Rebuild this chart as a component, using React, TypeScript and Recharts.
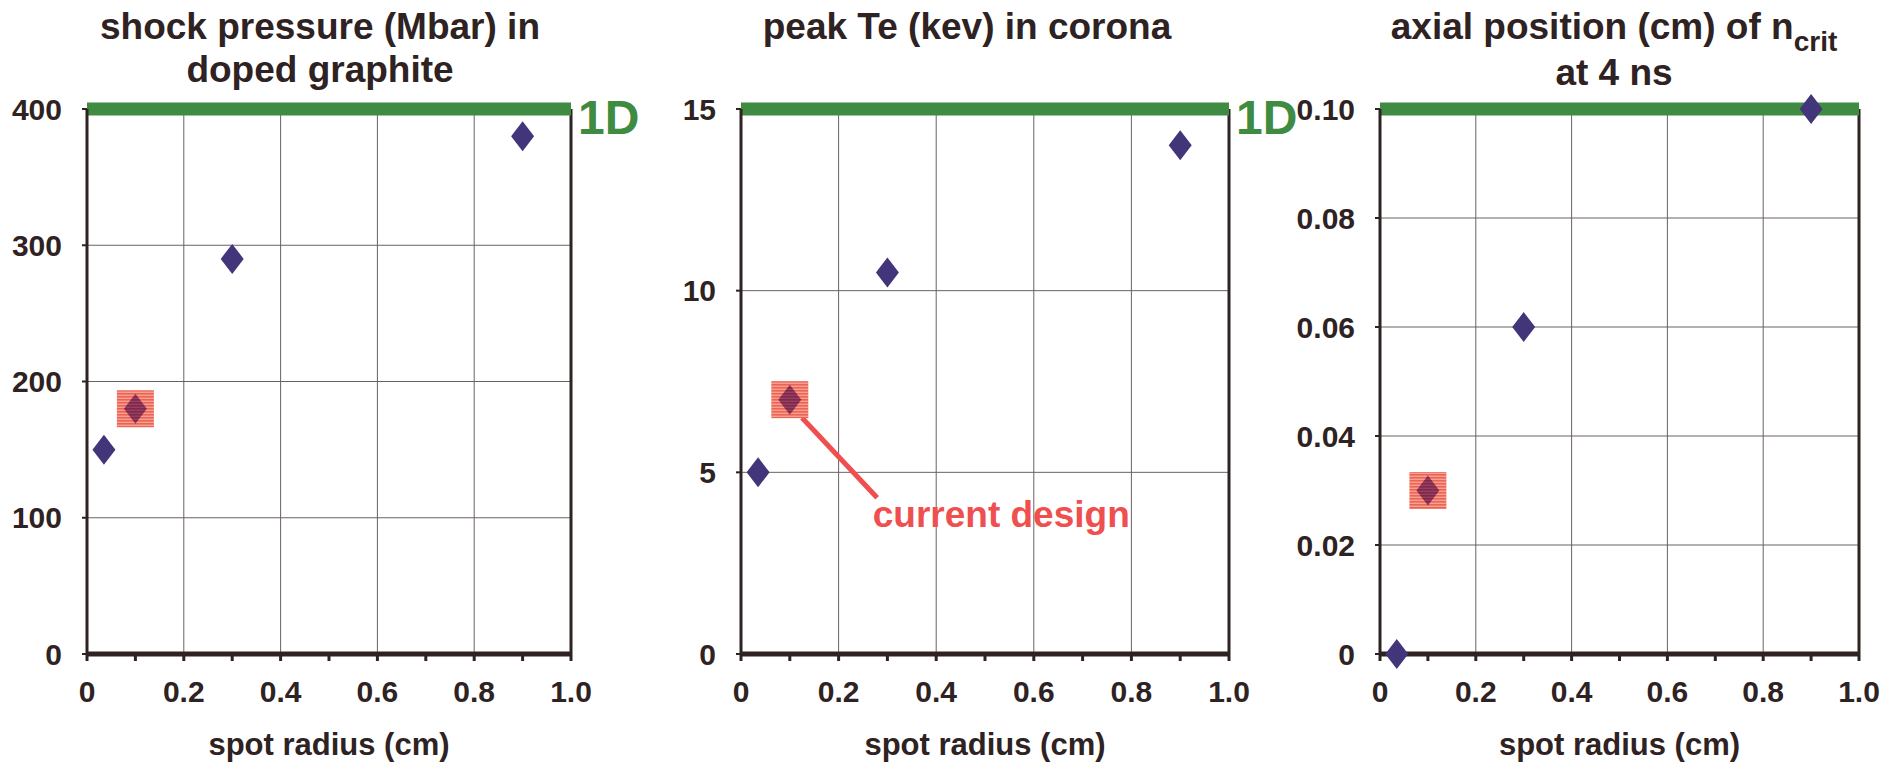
import { ScatterChart, Scatter, XAxis, YAxis, CartesianGrid, ReferenceLine, ReferenceDot, Label } from "recharts"

// spot radius (cm) of the four runs, shared by all three panels
const spotRadius = [0.035, 0.1, 0.3, 0.9]
const shockPressure = [150, 180, 290, 380] // Mbar
const peakTe = [5, 7, 10.5, 14] // keV
const critPosition = [0, 0.03, 0.06, 0.1] // cm
const currentDesignIndex = 1

// 1D reference levels
const pressure1D = 400
const te1D = 15
const position1D = 0.1

const radiusTicks = [0, 0.1, 0.2, 0.3, 0.4, 0.5, 0.6, 0.7, 0.8, 0.9, 1.0]
const radiusGrid = [0.2, 0.4, 0.6, 0.8]
const pressureTicks = [0, 100, 200, 300, 400]
const teTicks = [0, 5, 10, 15]
const positionTicks = [0, 0.02, 0.04, 0.06, 0.08, 0.1]

// callout on the Te panel, in data units
const calloutFrom = { x: 0.125, y: 6.5 }
const calloutTo = { x: 0.279, y: 4.3 }
const calloutText = { x: 0.27, y: 3.5, label: "current design" }

const FONT = '"Liberation Sans", Arial, Helvetica, sans-serif'
const INK = "#2f2222"
const GREEN = "#3f8b41"
const DIAMOND = "#43357a"
const RED = "#ef4f4f"

const Diamond = (props: any) => {
  const { cx, cy } = props
  if (cx == null || cy == null) return null
  return <polygon points={`${cx},${cy - 15} ${cx + 11.5},${cy} ${cx},${cy + 15} ${cx - 11.5},${cy}`} fill={DIAMOND} />
}

// striped red square with the darkened diamond inside it
const makeHighlight = (id: string) => (props: any) => {
  const { cx, cy } = props
  if (cx == null || cy == null) return null
  const s = 37
  return (
    <g>
      <defs>
        <pattern id={`box-${id}`} width="4" height="3" patternUnits="userSpaceOnUse">
          <rect width="4" height="3" fill="#f5a092" />
          <rect width="4" height="1.6" fill="#ee6454" />
        </pattern>
        <pattern id={`dia-${id}`} width="4" height="3" patternUnits="userSpaceOnUse">
          <rect width="4" height="3" fill="#9c3c5e" />
          <rect width="4" height="1.6" fill="#7a2a4c" />
        </pattern>
      </defs>
      <rect x={cx - s / 2} y={cy - s / 2} width={s} height={s} fill={`url(#box-${id})`} />
      <polygon
        points={`${cx},${cy - 15} ${cx + 11.5},${cy} ${cx},${cy + 15} ${cx - 11.5},${cy}`}
        fill={`url(#dia-${id})`}
      />
    </g>
  )
}

const radiusLabel = (v: number) => {
  const k = Math.round(v * 10)
  if (k % 2 === 1) return ""
  if (k === 0) return "0"
  return v.toFixed(1)
}

interface PanelProps {
  id: string
  left: number
  width: number
  plotLeft: number
  plotRight: number
  values: number[]
  yTicks: number[]
  yFormat?: (v: number) => string
  level1D: number
  show1D: boolean
  callout?: boolean
}

function Panel({ id, left, width, plotLeft, plotRight, values, yTicks, yFormat, level1D, show1D, callout }: PanelProps) {
  const points = spotRadius.map((x, i) => ({ x, y: values[i] }))
  const current = [points[currentDesignIndex]]
  const tickStyle = { fill: INK, fontSize: 30, fontWeight: 700, fontFamily: FONT }

  return (
    <div style={{ position: "absolute", left, top: 0 }}>
      <ScatterChart
        width={width}
        height={762}
        margin={{ top: 109, right: left + width - plotRight, bottom: 48, left: 0 }}
      >
        <CartesianGrid vertical={false} stroke="#6a6262" strokeWidth={1} />
        {radiusGrid.map((x) => (
          <ReferenceLine key={x} x={x} stroke="#6a6262" strokeWidth={1} />
        ))}
        <ReferenceLine x={1} stroke={INK} strokeWidth={3} />
        <ReferenceLine
          y={level1D}
          stroke={GREEN}
          strokeWidth={13}
          label={
            show1D
              ? { value: "1D", position: "right", offset: 7, dy: 8, fill: GREEN, fontSize: 48, fontWeight: 700, fontFamily: FONT }
              : undefined
          }
        />
        <XAxis
          type="number"
          dataKey="x"
          domain={[0, 1]}
          ticks={radiusTicks}
          interval={0}
          tickFormatter={radiusLabel}
          tick={tickStyle}
          tickSize={7}
          tickMargin={20}
          height={60}
          axisLine={{ stroke: INK, strokeWidth: 5 }}
          tickLine={{ stroke: INK, strokeWidth: 3 }}
        >
          <Label
            value="spot radius (cm)"
            position="bottom"
            offset={19}
            fill={INK}
            fontSize={31}
            fontWeight={700}
            fontFamily={FONT}
          />
        </XAxis>
        <YAxis
          type="number"
          dataKey="y"
          domain={[yTicks[0], yTicks[yTicks.length - 1]]}
          ticks={yTicks}
          interval={0}
          tickFormatter={yFormat}
          tick={tickStyle}
          width={plotLeft - left}
          tickSize={5}
          tickMargin={20}
          axisLine={{ stroke: INK, strokeWidth: 3 }}
          tickLine={{ stroke: INK, strokeWidth: 2 }}
        />
        <Scatter data={points} shape={Diamond} isAnimationActive={false} />
        <Scatter data={current} shape={makeHighlight(id)} isAnimationActive={false} />
        {callout && (
          <ReferenceLine
            segment={[calloutFrom, calloutTo]}
            stroke={RED}
            strokeWidth={5}
          />
        )}
        {callout && (
          <ReferenceDot
            x={calloutText.x}
            y={calloutText.y}
            r={0}
            shape={(p: any) => (
              <text x={p.cx} y={p.cy} fill={RED} fontSize={37} fontWeight={700} fontFamily={FONT}>
                {calloutText.label}
              </text>
            )}
          />
        )}
      </ScatterChart>
    </div>
  )
}

const titleStyle = (center: number) => ({
  position: "absolute" as const,
  left: center - 320,
  top: 5,
  width: 640,
  textAlign: "center" as const,
  fontFamily: FONT,
  fontSize: 37,
  fontWeight: 700,
  lineHeight: "43px",
  color: INK,
})

export default function App() {
  return (
    <div style={{ position: "absolute", left: 0, top: 0, width: 1904, height: 762, background: "#fff" }}>
      <div style={titleStyle(320)}>
        shock pressure (Mbar) in
        <br />
        doped graphite
      </div>
      <div style={titleStyle(967)}>peak Te (kev) in corona</div>
      <div style={titleStyle(1614)}>
        axial position (cm) of n
        <span style={{ fontSize: 28, position: "relative", top: 12 }}>crit</span>
        <br />
        at 4 ns
      </div>

      <Panel
        id="p"
        left={0}
        width={660}
        plotLeft={87}
        plotRight={571}
        values={shockPressure}
        yTicks={pressureTicks}
        level1D={pressure1D}
        show1D
      />
      <Panel
        id="te"
        left={660}
        width={640}
        plotLeft={741}
        plotRight={1229}
        values={peakTe}
        yTicks={teTicks}
        level1D={te1D}
        show1D
        callout
      />
      <Panel
        id="n"
        left={1240}
        width={664}
        plotLeft={1380}
        plotRight={1859}
        values={critPosition}
        yTicks={positionTicks}
        yFormat={(v) => (v === 0 ? "0" : v.toFixed(2))}
        level1D={position1D}
        show1D={false}
      />
    </div>
  )
}
